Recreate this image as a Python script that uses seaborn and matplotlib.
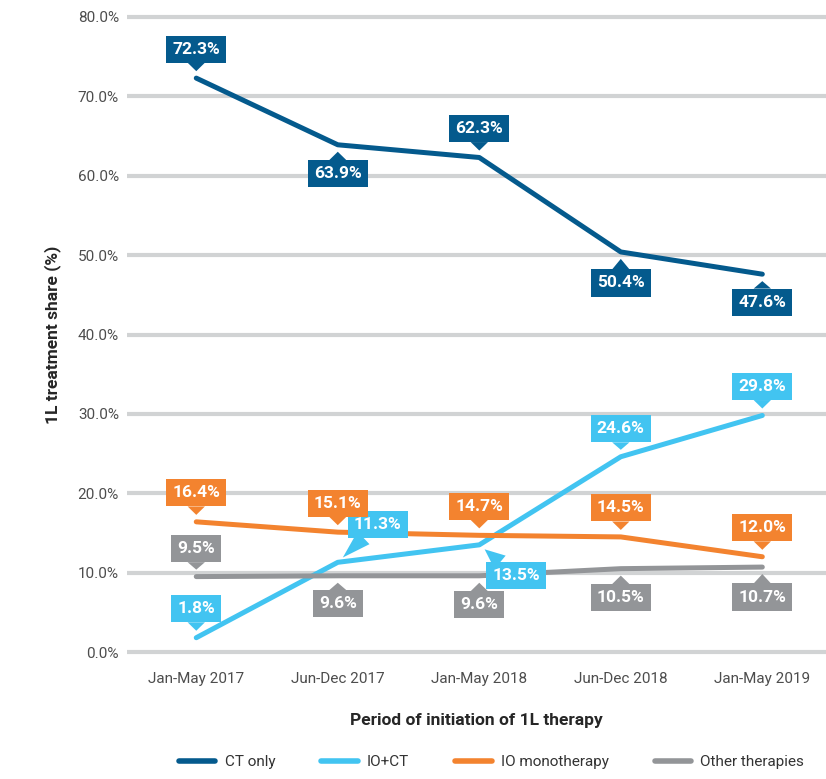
import pandas as pd
import matplotlib.pyplot as plt
import seaborn as sns

periods = ['Jan-May 2017', 'Jun-Dec 2017', 'Jan-May 2018', 'Jun-Dec 2018', 'Jan-May 2019']
ct_only = [72.3, 63.9, 62.3, 50.4, 47.6]
io_ct = [1.8, 11.3, 13.5, 24.6, 29.8]
io_mono = [16.4, 15.1, 14.7, 14.5, 12.0]
other = [9.5, 9.6, 9.6, 10.5, 10.7]
series_names = ['CT only', 'IO+CT', 'IO monotherapy', 'Other therapies']
colors = ['#045a8d', '#42c4f1', '#f3832f', '#939598']

# label offsets (pixels, +y = up) for each series / point
offsets = {
    'CT only': [(0, 29), (0, -29), (0, 29), (0, -31), (0, -28)],
    'IO+CT': [(0, 29), (40, 38), (37, -31), (0, 28), (0, 29)],
    'IO monotherapy': [(0, 29)] * 5,
    'Other therapies': [(0, 28), (0, -28), (0, -29), (0, -29), (0, -30)],
}

values = [ct_only, io_ct, io_mono, other]
rows = []
for name, vals in zip(series_names, values):
    for p, v in zip(periods, vals):
        rows.append({'period': p, 'share': v, 'therapy': name})
df = pd.DataFrame(rows)

sns.set_style('white')
plt.rcParams['font.family'] = ['Roboto', 'DejaVu Sans']

fig = plt.figure(figsize=(8.26, 7.79), dpi=100)
ax = fig.add_axes([0.154, 0.1566, 0.846, 0.828])

sns.lineplot(data=df, x='period', y='share', hue='therapy', palette=colors,
             linewidth=3.6, sort=False, ax=ax, legend=True)
for line in ax.lines:
    line.set_solid_capstyle('round')
    line.set_solid_joinstyle('round')

ax.set_ylim(-0.63, 80.63)
ax.set_xlim(-0.488, 4.45)
ax.set_yticks(range(0, 81, 10))
ax.set_yticklabels([f'{t:.1f}%' for t in range(0, 81, 10)])
ax.yaxis.grid(True, color='#d1d3d4', linewidth=3, zorder=0)
ax.set_axisbelow(True)
for s in ax.spines.values():
    s.set_visible(False)
ax.tick_params(axis='both', length=0, labelsize=11, labelcolor='#4d4d4d')
ax.tick_params(axis='y', pad=6)
ax.tick_params(axis='x', pad=11)
ax.set_ylabel('1L treatment share (%)', fontsize=12.5, fontweight='bold', labelpad=12)
ax.set_xlabel('Period of initiation of 1L therapy', fontsize=12.5, fontweight='bold', labelpad=19)

# callout labels
for name, vals, col in zip(series_names, values, colors):
    for i, v in enumerate(vals):
        dx, dy = offsets[name][i]
        ax.annotate(f'{v:.1f}%', xy=(i, v), xytext=(dx, dy), textcoords='offset pixels',
                    ha='center', va='center', fontsize=12.5, fontweight='bold', color='white',
                    bbox=dict(boxstyle='square,pad=0.35', fc=col, ec='none'),
                    arrowprops=dict(arrowstyle='wedge,tail_width=1.0', fc=col, ec='none',
                                    shrinkA=0, shrinkB=5),
                    zorder=5)

handles, labels = ax.get_legend_handles_labels()
ax.get_legend().remove()
for h in handles:
    h.set_linewidth(4)
    h.set_solid_capstyle('round')
fig.legend(handles, labels, loc='lower center', bbox_to_anchor=(0.595, -0.005), ncol=4,
           frameon=False, fontsize=11, handlelength=2.4, columnspacing=3.0,
           handletextpad=0.6, labelcolor='#333333')

fig.savefig('out.png', dpi=100)
